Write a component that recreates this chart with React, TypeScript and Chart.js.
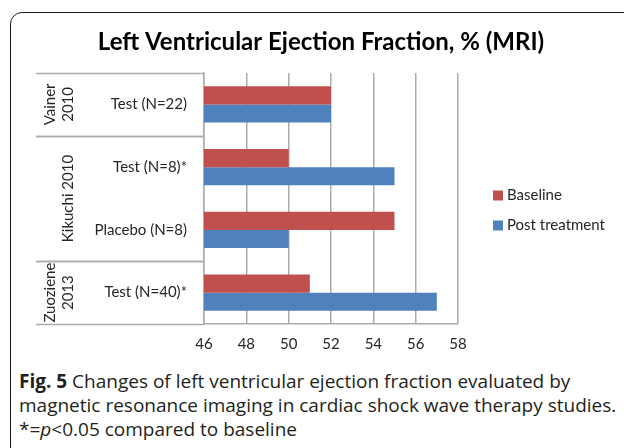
import { useEffect, useRef } from "react";
import { Chart, registerables } from "chart.js";

Chart.register(...registerables);

const titleText = "Left Ventricular Ejection Fraction, % (MRI)";
const categories = ["Test (N=22)", "Test (N=8)*", "Placebo (N=8)", "Test (N=40)*"];
const baselineValues = [52, 50, 55, 51];
const postTreatmentValues = [52, 55, 50, 57];
const groupLabels = [["Vainer", "2010"], ["Kikuchi 2010"], ["Zuoziene", "2013"]];
const groupStarts = [0, 1, 3];
const groupEnds = [0, 2, 3];
const seriesNames = ["Baseline", "Post treatment"];
const seriesColors = ["#C0504D", "#4F81BD"];
const xMin = 46;
const xMax = 58;
const xStep = 2;

const FONT = "Lato, 'Open Sans', sans-serif";
const GRID = "#ababab";
const TEXT = "#262626";

const titlePlugin = {
  id: "centerTitle",
  afterDraw(chart: any) {
    const ctx = chart.ctx;
    ctx.save();
    ctx.fillStyle = "#000";
    ctx.font = `bold 24px ${FONT}`;
    ctx.textAlign = "center";
    ctx.textBaseline = "middle";
    ctx.fillText(titleText, chart.width / 2 + 9, 42);
    ctx.restore();
  },
};

const groupPlugin = {
  id: "groupAxis",
  afterDraw(chart: any) {
    const ctx = chart.ctx;
    const y = chart.scales.y;
    const area = chart.chartArea;
    const n = categories.length;
    const boundary = (i: number) =>
      i <= 0 ? area.top : i >= n ? area.bottom : (y.getPixelForValue(i - 1) + y.getPixelForValue(i)) / 2;
    ctx.save();
    ctx.strokeStyle = GRID;
    ctx.lineWidth = 1.5;
    const left = 36;
    groupLabels.forEach((lines, g) => {
      const top = boundary(groupStarts[g]);
      const bottom = boundary(groupEnds[g] + 1);
      [top, bottom].forEach((py) => {
        ctx.beginPath();
        ctx.moveTo(left, Math.round(py) + 0.5);
        ctx.lineTo(area.left, Math.round(py) + 0.5);
        ctx.stroke();
      });
      ctx.save();
      ctx.translate(68, (top + bottom) / 2);
      ctx.rotate(-Math.PI / 2);
      ctx.fillStyle = TEXT;
      ctx.font = `15px ${FONT}`;
      ctx.textAlign = "center";
      ctx.textBaseline = "middle";
      lines.forEach((line, k) => {
        ctx.fillText(line, 0, -18 * (lines.length - 1 - k));
      });
      ctx.restore();
    });
    ctx.restore();
  },
};

const legendPlugin = {
  id: "sideLegend",
  afterDraw(chart: any) {
    const ctx = chart.ctx;
    const area = chart.chartArea;
    const x0 = area.right + 35;
    const yc = (area.top + area.bottom) / 2 + 12;
    ctx.save();
    ctx.font = `15px ${FONT}`;
    ctx.textBaseline = "middle";
    ctx.textAlign = "left";
    chart.data.datasets.forEach((ds: any, i: number) => {
      const cy = yc + (i - (chart.data.datasets.length - 1) / 2) * 30;
      ctx.fillStyle = ds.backgroundColor;
      ctx.fillRect(x0, cy - 5, 10, 10);
      ctx.fillStyle = TEXT;
      ctx.fillText(ds.label, x0 + 14, cy);
    });
    ctx.restore();
  },
};

export default function App() {
  const ref = useRef<HTMLCanvasElement>(null);
  useEffect(() => {
    if (!ref.current) return;
    const chart = new Chart(ref.current, {
      type: "bar",
      data: {
        labels: categories,
        datasets: [
          { label: seriesNames[0], data: baselineValues, backgroundColor: seriesColors[0] },
          { label: seriesNames[1], data: postTreatmentValues, backgroundColor: seriesColors[1] },
        ],
      },
      options: {
        indexAxis: "y",
        animation: false,
        responsive: false,
        maintainAspectRatio: false,
        datasets: { bar: { categoryPercentage: 0.574, barPercentage: 1 } },
        layout: { padding: { left: 0, right: 166, top: 73, bottom: 0 } },
        plugins: {
          legend: { display: false },
          tooltip: { enabled: false },
          title: { display: false },
        },
        scales: {
          x: {
            min: xMin,
            max: xMax,
            ticks: { stepSize: xStep, color: TEXT, font: { family: FONT, size: 15 }, padding: 11 },
            grid: { color: GRID, lineWidth: 1.5, drawTicks: false },
            border: { color: GRID, width: 1.5 },
            afterFit: (s: any) => {
              s.height = 36;
            },
          },
          y: {
            ticks: { color: TEXT, font: { family: FONT, size: 15 }, padding: 17 },
            grid: { display: false, drawTicks: false },
            border: { color: GRID, width: 1.5 },
            afterFit: (s: any) => {
              s.width = 204;
            },
          },
        },
      },
      plugins: [titlePlugin, groupPlugin, legendPlugin],
    });
    return () => chart.destroy();
  }, []);

  return (
    <div style={{ position: "fixed", left: 0, top: 0, width: 624, height: 448, overflow: "hidden", background: "#fff" }}>
      <div
        style={{
          position: "absolute",
          left: 10,
          top: 12,
          width: 700,
          height: 447,
          border: "1.5px solid #1a1a1a",
          borderRadius: 12,
          boxSizing: "border-box",
        }}
      />
      <canvas ref={ref} width={624} height={360} style={{ position: "absolute", left: 0, top: 0 }} />
      <div
        style={{
          position: "absolute",
          left: 19,
          top: 369,
          width: 605,
          fontFamily: "'Open Sans', sans-serif",
          fontSize: 19,
          lineHeight: "24px",
          color: "#231f20",
          whiteSpace: "nowrap",
        }}
      >
        <b>Fig. 5</b> Changes of left ventricular ejection fraction evaluated by
        <br />
        magnetic resonance imaging in cardiac shock wave therapy studies.
        <br />
        *=<i>p</i>&lt;0.05 compared to baseline
      </div>
    </div>
  );
}
